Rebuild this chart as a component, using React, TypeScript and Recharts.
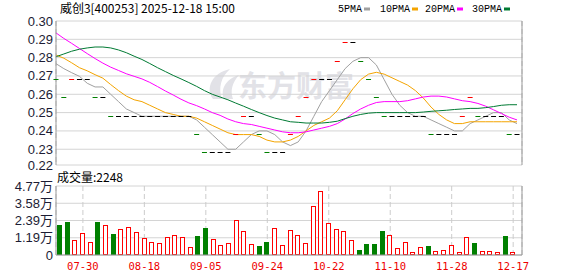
import React from 'react';
import { ComposedChart, Line, Bar, XAxis, YAxis, CartesianGrid } from 'recharts';

const dates = ['07-23','07-25','07-28','07-30','08-01','08-04','08-06','08-08','08-11','08-13',
  '08-15','08-18','08-20','08-22','08-25','08-27','08-29','09-01','09-03','09-05',
  '09-08','09-10','09-12','09-15','09-17','09-19','09-22','09-24','09-26','09-29',
  '10-10','10-13','10-15','10-17','10-20','10-22','10-24','10-27','10-29','10-31',
  '11-03','11-05','11-07','11-10','11-12','11-14','11-17','11-19','11-21','11-24',
  '11-26','11-28','12-01','12-03','12-05','12-08','12-10','12-12','12-15','12-17'];

const closes = [0.268,0.258,0.268,0.268,0.268,0.258,0.258,0.248,0.248,0.248,
  0.248,0.248,0.248,0.248,0.248,0.248,0.248,0.248,0.238,0.228,
  0.228,0.228,0.228,0.238,0.248,0.248,0.238,0.228,0.228,0.228,
  0.238,0.248,0.258,0.268,0.268,0.268,0.278,0.288,0.288,0.278,
  0.268,0.258,0.248,0.248,0.248,0.248,0.248,0.248,0.238,0.238,
  0.238,0.238,0.248,0.258,0.248,0.248,0.248,0.248,0.238,0.238];

// 1 = up (red), -1 = down (green), 0 = unchanged (black)
const trend = [-1,-1,1,0,0,-1,0,-1,0,0,
  0,0,0,0,0,0,0,0,-1,-1,
  0,0,0,1,1,0,-1,-1,0,0,
  1,1,1,1,0,0,1,1,0,-1,
  -1,-1,-1,0,0,0,0,0,-1,0,
  0,0,1,1,-1,0,0,0,-1,0];

const volumes = [20700,22800,10100,15000,8800,22800,20500,14500,17700,19100,
  15700,11500,9000,8100,12200,13600,12200,5300,13100,18700,
  10800,6700,8300,24000,16400,7400,6200,9000,18400,6700,
  17100,13600,8100,33600,44000,21900,17700,16400,10100,3500,
  7600,7600,16600,13600,4600,8800,2100,5300,6200,2500,
  3200,6700,1800,12200,8300,2500,2500,2100,13100,2248];

const ma5 = [0.2767,0.2740,0.2718,0.2698,0.266,0.264,0.264,0.260,0.256,0.252,
  0.250,0.248,0.248,0.248,0.248,0.248,0.248,0.248,0.246,0.242,
  0.238,0.234,0.230,0.230,0.234,0.238,0.240,0.240,0.238,0.234,
  0.232,0.234,0.240,0.248,0.256,0.262,0.268,0.274,0.278,0.280,
  0.280,0.276,0.268,0.260,0.254,0.250,0.248,0.248,0.246,0.244,
  0.242,0.240,0.240,0.244,0.246,0.248,0.250,0.250,0.246,0.244];

const ma10 = [0.2814,0.2797,0.2772,0.2745,0.2728,0.2707,0.2688,0.2653,0.2620,0.259,
  0.257,0.256,0.254,0.252,0.250,0.249,0.248,0.248,0.247,0.245,
  0.243,0.241,0.239,0.238,0.238,0.238,0.237,0.235,0.234,0.234,
  0.235,0.237,0.240,0.243,0.245,0.247,0.251,0.257,0.263,0.268,
  0.271,0.272,0.271,0.269,0.267,0.265,0.262,0.258,0.253,0.249,
  0.246,0.244,0.244,0.245,0.245,0.245,0.245,0.245,0.245,0.245];

const ma20 = [0.2935,0.2905,0.2878,0.2850,0.2822,0.2795,0.2770,0.2748,0.2730,0.2712,
  0.2698,0.2684,0.2665,0.2642,0.2618,0.2596,0.2573,0.2553,0.2538,0.252,
  0.250,0.2485,0.2465,0.245,0.244,0.2435,0.2425,0.2415,0.2405,0.2395,
  0.239,0.239,0.2395,0.2405,0.2415,0.2425,0.244,0.2465,0.2495,0.252,
  0.254,0.2555,0.256,0.256,0.256,0.2565,0.2575,0.2585,0.259,0.259,
  0.2585,0.2575,0.2565,0.256,0.255,0.2535,0.2515,0.2495,0.2475,0.246];

const ma30 = [0.2805,0.2820,0.2835,0.2846,0.2853,0.2858,0.2858,0.2853,0.2842,0.2827,
  0.2808,0.2790,0.2768,0.2745,0.2724,0.2703,0.2684,0.2664,0.2643,0.2620,
  0.2600,0.2585,0.2570,0.2552,0.2535,0.2517,0.2500,0.2484,0.2470,0.2460,
  0.245,0.2447,0.2443,0.2443,0.2443,0.2447,0.2453,0.2467,0.248,0.249,
  0.2497,0.250,0.250,0.250,0.250,0.250,0.250,0.2503,0.2507,0.251,
  0.2513,0.2517,0.252,0.2523,0.2523,0.2527,0.2533,0.254,0.2543,0.2543];

const xTickLabels = ['07-30','08-18','09-05','09-24','10-22','11-10','11-28','12-17'];
const priceTicks = [0.2214,0.23,0.24,0.25,0.26,0.27,0.28,0.29,0.30];
const priceDomain = [0.2214, 0.30];
const volTicks = [0, 11925, 23850, 35775, 47700];
const volTickLabels = ['0', '1.19万', '2.39万', '3.58万', '4.77万'];
const titleText = '威创3[400253] 2025-12-18 15:00';
const volTitle = '成交量:2248';
const legendItems = [
  { name: '5PMA', color: '#a0a0a0' },
  { name: '10PMA', color: '#f4a400' },
  { name: '20PMA', color: '#ff00ff' },
  { name: '30PMA', color: '#007a33' },
];

const data = dates.map((d, i) => ({
  date: d, close: closes[i], trend: trend[i], vol: volumes[i],
  ma5: ma5[i], ma10: ma10[i], ma20: ma20[i], ma30: ma30[i],
}));

const RED = '#ff0000';
const GREEN = '#008000';
const FRAME = '#999999';
const GRID = '#d4d4d4';
const LABEL = '#1c1c34';

const PriceTick = (props: any) => {
  const { x, y, payload } = props;
  return (
    <text x={x} y={y} dy={4.5} textAnchor="end" fontSize={13} fill={LABEL}
      fontFamily="'Liberation Sans', Arial, sans-serif">{Number(payload.value).toFixed(2)}</text>
  );
};

const VolTick = (props: any) => {
  const { x, y, payload } = props;
  const idx = volTicks.indexOf(payload.value);
  return (
    <text x={x} y={y} dy={4.5} textAnchor="end" fontSize={13} fill={LABEL}
      fontFamily="'Liberation Sans', 'Noto Sans CJK SC', sans-serif">{idx >= 0 ? volTickLabels[idx] : ''}</text>
  );
};

const DateTick = (props: any) => {
  const { x, y, payload } = props;
  return (
    <text x={x} y={y} dy={15} textAnchor="middle" fontSize={10.5} fill="#ee0000"
      fontFamily="'DejaVu Sans Mono', monospace">{payload.value}</text>
  );
};

const renderCandle = (props: any) => {
  const { cx, cy, payload, index } = props;
  if (cx == null || cy == null) return <g key={`c${index}`} />;
  const c = payload.trend > 0 ? RED : payload.trend < 0 ? GREEN : '#000000';
  return <rect key={`c${index}`} x={cx - 2.5} y={Math.floor(cy)} width={5} height={1} fill={c} />;
};

const renderVol = (props: any) => {
  const { x, y, width, height, payload, index } = props;
  if (height == null || width == null) return <g key={`v${index}`} />;
  const left = Math.round(x);
  const top = Math.round(y);
  const bottom = Math.round(y + height);
  if (payload.trend < 0) {
    return <rect key={`v${index}`} x={left} y={top} width={5} height={bottom - top} fill={GREEN} />;
  }
  return <rect key={`v${index}`} x={left + 0.5} y={top + 0.5} width={4} height={Math.max(bottom - top - 1, 0)}
    fill="#ffffff" stroke={RED} strokeWidth={1} />;
};

const W = 578;
const H = 276;

export default function App() {
  return (
    <div style={{ position: 'absolute', left: 0, top: 0, width: W, height: H, background: '#ffffff', overflow: 'hidden' }}>
      <svg width={W} height={H} style={{ position: 'absolute', left: 0, top: 0 }}>
        <g fill="#e2e2e7">
          <path d="M213,99 C205,88 212,73 230,69 C221,77 218,88 222,99 Z" />
          <path d="M224,99 C220,89 226,79 239,75 C232,83 230,91 233,99 Z" />
        </g>
        <text x={238} y={97} fontSize={29} fontWeight="bold" fill="#e2e2e7"
          fontFamily="'Noto Sans CJK SC', sans-serif">东方财富</text>
        <text x={60} y={13} fontSize={12} fill="#000" textLength={175} lengthAdjust="spacingAndGlyphs"
          fontFamily="'Noto Sans CJK SC', sans-serif">{titleText}</text>
        {legendItems.map((it, i) => {
          const xs = [338, 380, 425, 472][i];
          const w = it.name.length * 6;
          return (
            <g key={it.name}>
              <text x={xs} y={12} fontSize={10} fill="#000" fontFamily="'Liberation Mono', monospace">{it.name}</text>
              <rect x={xs + w + 2} y={7.5} width={6} height={3} fill={it.color} />
            </g>
          );
        })}
        <text x={57} y={182} fontSize={12} fill="#000" fontFamily="'Noto Sans CJK SC', sans-serif">{volTitle}</text>
      </svg>

      <div style={{ position: 'absolute', left: 0, top: 0 }}>
        <ComposedChart width={W} height={H} data={data} margin={{ top: 21, right: 0, bottom: 111, left: 0 }}>
          <CartesianGrid horizontal={true} vertical={false} stroke={GRID} />
          <CartesianGrid horizontal={false} vertical={true} stroke="#cccccc" strokeDasharray="5 3" />
          <XAxis dataKey="date" ticks={xTickLabels} interval={0} tick={false} tickLine={false} height={0}
            padding={{ left: 0, right: 5 }} axisLine={{ stroke: FRAME }} />
          <XAxis xAxisId="top" orientation="top" dataKey="date" tick={false} tickLine={false} height={0}
            axisLine={{ stroke: FRAME }} />
          <YAxis domain={priceDomain} ticks={priceTicks} interval={0} width={56} tick={<PriceTick />} tickLine={false}
            tickSize={3} tickMargin={0} axisLine={{ stroke: FRAME }} allowDataOverflow />
          <YAxis yAxisId="right" orientation="right" width={56} tick={false} tickLine={false}
            axisLine={{ stroke: FRAME }} />
          <Line dataKey="close" stroke="none" dot={renderCandle} activeDot={false} isAnimationActive={false} />
          <Line dataKey="ma5" stroke="#a0a0a0" strokeWidth={1} dot={false} activeDot={false} isAnimationActive={false} />
          <Line dataKey="ma10" stroke="#f4a400" strokeWidth={1} dot={false} activeDot={false} isAnimationActive={false} />
          <Line dataKey="ma20" stroke="#ff00ff" strokeWidth={1} dot={false} activeDot={false} isAnimationActive={false} />
          <Line dataKey="ma30" stroke="#007a33" strokeWidth={1} dot={false} activeDot={false} isAnimationActive={false} />
        </ComposedChart>
      </div>

      <div style={{ position: 'absolute', left: 0, top: 0 }}>
        <ComposedChart width={W} height={H} data={data} margin={{ top: 186, right: 0, bottom: 0, left: 0 }}>
          <CartesianGrid horizontal={true} vertical={false} stroke={GRID} />
          <CartesianGrid horizontal={false} vertical={true} stroke="#cccccc" strokeDasharray="5 3" />
          <XAxis dataKey="date" ticks={xTickLabels} interval={0} tick={<DateTick />} tickLine={false} height={21}
            tickSize={0} tickMargin={0} padding={{ left: 0, right: 5 }} axisLine={{ stroke: FRAME }} />
          <XAxis xAxisId="top" orientation="top" dataKey="date" tick={false} tickLine={false} height={0}
            axisLine={{ stroke: FRAME }} />
          <YAxis domain={[0, 47700]} ticks={volTicks} interval={0} width={56} tick={<VolTick />} tickLine={false}
            tickSize={3} tickMargin={0} axisLine={{ stroke: FRAME }} />
          <YAxis yAxisId="right" orientation="right" width={56} tick={false} tickLine={false}
            axisLine={{ stroke: FRAME }} />
          <Bar dataKey="vol" barSize={5} shape={renderVol} isAnimationActive={false} />
        </ComposedChart>
      </div>
    </div>
  );
}
